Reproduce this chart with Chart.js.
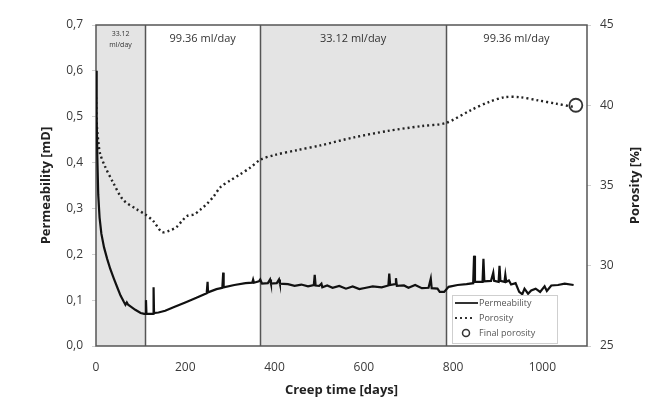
<!DOCTYPE html>
<html>
<head>
<meta charset="utf-8">
<script src="https://cdn.jsdelivr.net/npm/chart.js@4.4.0/dist/chart.umd.min.js"></script>
<style>
  html, body { margin: 0; padding: 0; background: #fff; }
  #wrap { width: 649px; height: 398px; position: relative; }
</style>
</head>
<body>
<div id="wrap"><canvas id="creep"></canvas></div>
<script>
// creep test: permeability (left axis) and porosity (right axis)
const permDays = [0, 1, 2, 3, 5, 8, 12, 18, 25, 32, 40, 48, 55, 62, 66, 69, 72, 78, 88, 100,
  108, 111, 112, 113, 125, 128, 129, 130, 140, 155, 175, 200, 225, 248, 250, 251, 270, 283, 285, 286,
  310, 335, 350, 352, 354, 365, 368, 372, 385, 390, 392, 405, 410, 412, 430, 445, 460, 475, 488, 490,
  492, 500, 505, 507, 518, 530, 545, 560, 575, 590, 605, 620, 640, 655, 657, 659, 670, 672, 674, 690,
  700, 715, 730, 745, 750, 752, 765, 770, 780, 790, 810, 830, 845, 847, 849, 866, 868, 870, 885, 890,
  892, 902, 904, 906, 915, 917, 919, 925, 930, 940, 948, 955, 960, 968, 975, 985, 995, 1005, 1010, 1020,
  1035, 1050, 1070];
const permValues = [0.60, 0.59, 0.50, 0.41, 0.33, 0.28, 0.245, 0.215, 0.19, 0.168, 0.147, 0.127, 0.11, 0.097, 0.09, 0.095, 0.09, 0.086, 0.079, 0.072,
  0.07, 0.07, 0.10, 0.07, 0.07, 0.07, 0.128, 0.072, 0.073, 0.077, 0.085, 0.095, 0.105, 0.115, 0.14, 0.117, 0.124, 0.127, 0.16, 0.128,
  0.133, 0.137, 0.138, 0.145, 0.138, 0.141, 0.145, 0.136, 0.137, 0.145, 0.136, 0.137, 0.145, 0.136, 0.135, 0.131, 0.134, 0.13, 0.133, 0.155,
  0.132, 0.131, 0.136, 0.128, 0.132, 0.127, 0.131, 0.125, 0.13, 0.124, 0.127, 0.13, 0.128, 0.132, 0.158, 0.133, 0.135, 0.148, 0.131, 0.132,
  0.127, 0.133, 0.126, 0.127, 0.147, 0.126, 0.125, 0.118, 0.118, 0.129, 0.133, 0.135, 0.137, 0.197, 0.14, 0.14, 0.19, 0.141, 0.142, 0.16,
  0.142, 0.14, 0.175, 0.142, 0.14, 0.155, 0.14, 0.143, 0.134, 0.137, 0.118, 0.113, 0.125, 0.114, 0.121, 0.125, 0.118, 0.13, 0.12, 0.132,
  0.133, 0.136, 0.133];

const poroDays = [0, 2, 5, 9, 20, 38, 61, 92, 110, 128, 148, 165, 180, 193, 204, 220, 234, 250, 263, 279,
  300, 323, 345, 368, 400, 450, 503, 578, 654, 728, 784, 840, 880, 915, 950, 991, 1030, 1070];
const poroValues = [40.5, 38.7, 37.8, 37.0, 36.2, 35.2, 34.1, 33.5, 33.2, 32.8, 32.1, 32.2, 32.4, 32.8, 33.1, 33.2, 33.5, 33.9, 34.3, 34.9,
  35.3, 35.7, 36.1, 36.6, 36.9, 37.2, 37.5, 38.0, 38.4, 38.7, 38.9, 39.7, 40.2, 40.5, 40.5, 40.3, 40.1, 39.9];

const finalDay = [1075];
const finalPorosity = [40.0];

// injection stages: boundaries in days and the rate label of each one
const stageBounds = [0, 110, 368, 784, 1100];
const stageLabels = [['33.12', 'ml/day'], ['99.36 ml/day'], ['33.12 ml/day'], ['99.36 ml/day']];
const stageShaded = [true, false, true, false];

const FONT = "'Open Sans', sans-serif";
const TXT = '#3a3a3a';

const toPoints = (xs, ys) => xs.map((x, i) => ({ x: x, y: ys[i] }));

// grey bands, rate labels and the frame round the plot
const stagePlugin = {
  id: 'stages',
  beforeDatasetsDraw(chart) {
    const { ctx, chartArea: a, scales: { x } } = chart;
    ctx.save();
    for (let i = 0; i < stageLabels.length; i++) {
      const x0 = x.getPixelForValue(stageBounds[i]);
      const x1 = x.getPixelForValue(stageBounds[i + 1]);
      if (stageShaded[i]) {
        ctx.fillStyle = '#e4e4e4';
        ctx.fillRect(x0, a.top, x1 - x0, a.bottom - a.top);
      }
      ctx.fillStyle = '#333';
      ctx.textAlign = 'center';
      ctx.textBaseline = 'middle';
      const lines = stageLabels[i];
      if (lines.length > 1) {
        ctx.font = '7px ' + FONT;
        ctx.fillText(lines[0], (x0 + x1) / 2, a.top + 9);
        ctx.fillText(lines[1], (x0 + x1) / 2, a.top + 20);
      } else {
        ctx.font = '11px ' + FONT;
        ctx.fillText(lines[0], (x0 + x1) / 2, a.top + 14);
      }
    }
    ctx.strokeStyle = '#555';
    ctx.lineWidth = 1.5;
    for (let i = 1; i < stageBounds.length - 1; i++) {
      const px = Math.round(x.getPixelForValue(stageBounds[i])) + 0.5;
      ctx.beginPath();
      ctx.moveTo(px, a.top);
      ctx.lineTo(px, a.bottom);
      ctx.stroke();
    }
    ctx.strokeRect(a.left, a.top, a.right - a.left, a.bottom - a.top);
    ctx.restore();
  },
  afterDraw(chart) {
    const { ctx, chartArea: a } = chart;
    ctx.save();
    // right axis title, read from bottom to top like the left one
    ctx.translate(635, (a.top + a.bottom) / 2);
    ctx.rotate(-Math.PI / 2);
    ctx.font = 'bold 13px ' + FONT;
    ctx.fillStyle = '#222';
    ctx.textAlign = 'center';
    ctx.textBaseline = 'middle';
    ctx.fillText('Porosity [%]', 0, 0);
    ctx.restore();

    // legend box in the lower right corner
    const bx = 452, by = 295, bw = 105, bh = 48;
    ctx.save();
    ctx.fillStyle = '#fff';
    ctx.fillRect(bx, by, bw, bh);
    ctx.strokeStyle = '#cfcfcf';
    ctx.lineWidth = 1;
    ctx.strokeRect(bx + 0.5, by + 0.5, bw, bh);
    ctx.font = '9px ' + FONT;
    ctx.fillStyle = '#555';
    ctx.textBaseline = 'middle';
    ctx.textAlign = 'left';
    ctx.strokeStyle = '#333';
    ctx.lineWidth = 2;
    ctx.beginPath();
    ctx.moveTo(bx + 3, by + 8);
    ctx.lineTo(bx + 26, by + 8);
    ctx.stroke();
    ctx.fillText('Permeability', bx + 27, by + 8);
    ctx.setLineDash([2, 3]);
    ctx.lineWidth = 2.2;
    ctx.beginPath();
    ctx.moveTo(bx + 3, by + 23);
    ctx.lineTo(bx + 20, by + 23);
    ctx.stroke();
    ctx.setLineDash([]);
    ctx.fillText('Porosity', bx + 27, by + 23);
    ctx.lineWidth = 1.5;
    ctx.beginPath();
    ctx.arc(bx + 14, by + 38, 3.5, 0, Math.PI * 2);
    ctx.stroke();
    ctx.fillText('Final porosity', bx + 27, by + 38);
    ctx.restore();
  }
};

new Chart(document.getElementById('creep'), {
  type: 'scatter',
  data: {
    datasets: [
      {
        label: 'Final porosity',
        data: toPoints(finalDay, finalPorosity),
        yAxisID: 'y1',
        showLine: false,
        pointRadius: 6.5,
        pointBorderWidth: 1.8,
        pointBorderColor: '#333',
        pointBackgroundColor: 'rgba(255,255,255,0)',
        order: 0
      },
      {
        label: 'Permeability',
        data: toPoints(permDays, permValues),
        yAxisID: 'y',
        showLine: true,
        borderColor: '#111',
        borderWidth: 2.2,
        pointRadius: 0,
        tension: 0,
        order: 1
      },
      {
        label: 'Porosity',
        data: toPoints(poroDays, poroValues),
        yAxisID: 'y1',
        showLine: true,
        borderColor: '#222',
        borderWidth: 2.4,
        borderDash: [2, 3],
        pointRadius: 0,
        tension: 0.3,
        order: 2
      }
    ]
  },
  options: {
    responsive: true,
    maintainAspectRatio: false,
    animation: false,
    layout: { padding: { top: 25, left: 0, right: 0, bottom: 0 } },
    plugins: {
      legend: { display: false },
      tooltip: { enabled: false }
    },
    scales: {
      x: {
        type: 'linear',
        min: 0,
        max: 1100,
        afterFit: (s) => { s.height = 52; },
        ticks: { stepSize: 200, includeBounds: false, color: TXT, padding: 6, font: { family: FONT, size: 12 }, callback: (v) => String(v) },
        grid: { display: false },
        border: { display: false },
        title: { display: true, text: 'Creep time [days]', color: '#222', padding: { top: 4, bottom: 0 }, font: { family: FONT, size: 13, weight: 'bold' } }
      },
      y: {
        position: 'left',
        min: 0,
        max: 0.7,
        afterFit: (s) => { s.width = 96; },
        ticks: {
          stepSize: 0.1,
          color: TXT,
          padding: 9,
          font: { family: FONT, size: 12 },
          callback: (v) => v.toFixed(1).replace('.', ',')
        },
        grid: { drawOnChartArea: false, tickLength: 4, color: '#d0d0d0' },
        border: { display: false },
        title: { display: true, text: 'Permeability [mD]', color: '#222', padding: { top: 38, bottom: 0 }, font: { family: FONT, size: 13, weight: 'bold' } }
      },
      y1: {
        position: 'right',
        min: 25,
        max: 45,
        afterFit: (s) => { s.width = 62; },
        ticks: { stepSize: 5, color: TXT, padding: 9, font: { family: FONT, size: 12 } },
        grid: { drawOnChartArea: false, tickLength: 4, color: '#d0d0d0' },
        border: { display: false },
        title: { display: false }
      }
    }
  },
  plugins: [stagePlugin]
});
</script>
</body>
</html>
